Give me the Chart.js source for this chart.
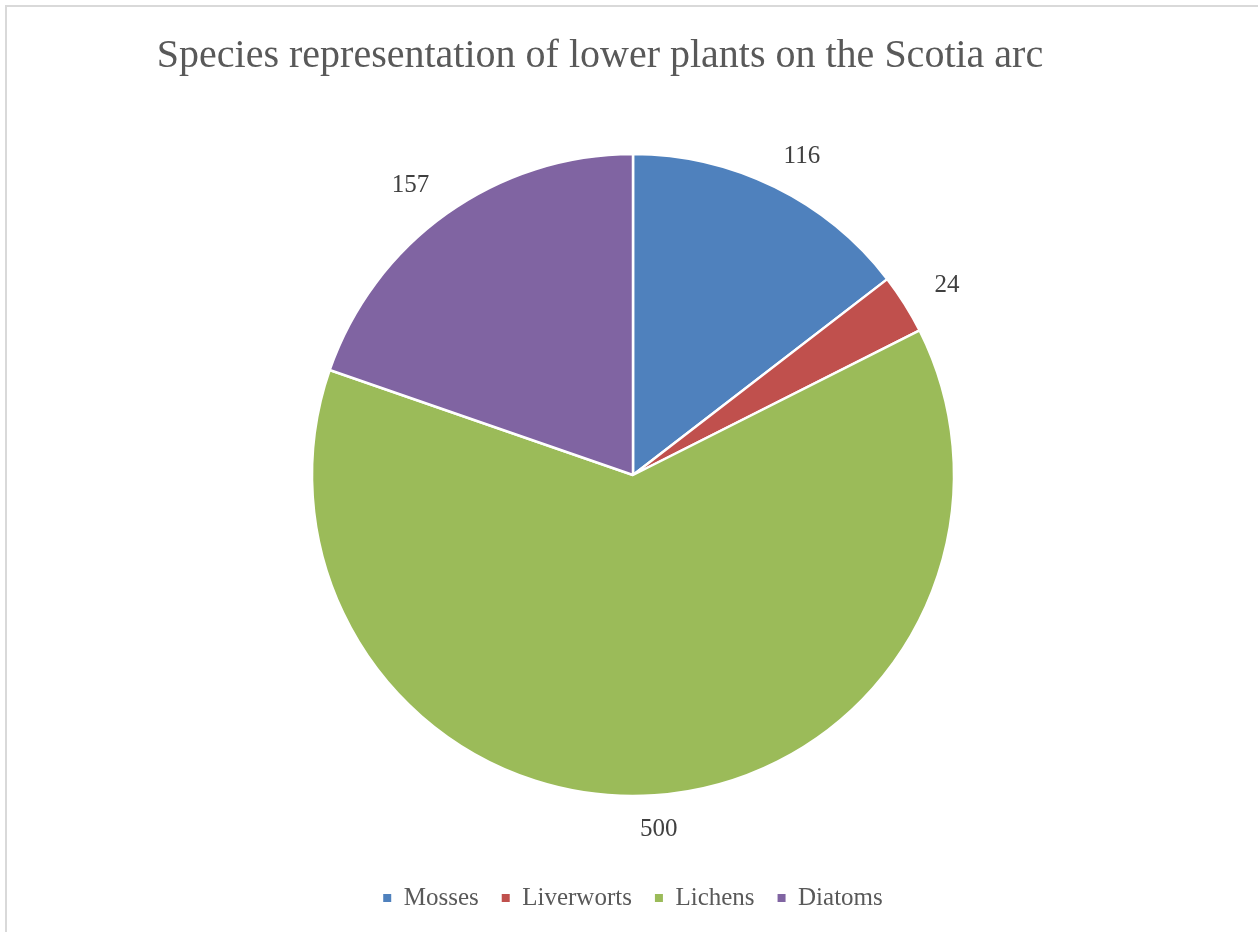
<!DOCTYPE html>
<html>
<head>
<meta charset="utf-8">
<title>Species representation of lower plants on the Scotia arc</title>
<script src="https://cdn.jsdelivr.net/npm/chart.js@4.4.1/dist/chart.umd.min.js"></script>
<style>
  html, body { margin: 0; padding: 0; background: #fff; overflow: hidden; }
  #wrap { position: relative; width: 1258px; height: 932px; }
  #frame {
    position: absolute; left: 5px; top: 5px; width: 1300px; height: 1000px;
    border-left: 2px solid #d9d9d9; border-top: 2px solid #d9d9d9;
    pointer-events: none;
  }
  canvas { position: absolute; left: 0; top: 0; }
</style>
</head>
<body>
<div id="wrap">
  <canvas id="pie" width="1258" height="932"></canvas>
  <div id="frame"></div>
</div>
<script>
const chartTitle = 'Species representation of lower plants on the Scotia arc';
const groups = ['Mosses', 'Liverworts', 'Lichens', 'Diatoms'];
const speciesCounts = [116, 24, 500, 157];
const sliceColors = ['#4f81bd', '#c0504d', '#9bbb59', '#8064a2'];

const serif = "'Liberation Serif', 'DejaVu Serif', serif";

// title drawn by hand so it can sit a little left of the pie centre
const titlePlugin = {
    id: 'titleText',
    afterDraw(chart) {
        const ctx = chart.ctx;
        ctx.save();
        ctx.font = '40px ' + serif;
        ctx.fillStyle = '#595959';
        ctx.textAlign = 'center';
        ctx.textBaseline = 'alphabetic';
        ctx.fillText(chartTitle, 600, 67);
        ctx.restore();
    }
};

// value labels just outside each slice
const valueLabels = {
    id: 'valueLabels',
    afterDatasetsDraw(chart) {
        const ctx = chart.ctx;
        const meta = chart.getDatasetMeta(0);
        ctx.save();
        ctx.font = '25px ' + serif;
        ctx.fillStyle = '#404040';
        ctx.textAlign = 'center';
        ctx.textBaseline = 'middle';
        meta.data.forEach((arc, i) => {
            const p = arc.getProps(['x', 'y', 'startAngle', 'endAngle', 'outerRadius'], true);
            const mid = (p.startAngle + p.endAngle) / 2;
            const text = String(speciesCounts[i]);
            const w = ctx.measureText(text).width;
            const h = 18;
            const r = p.outerRadius + 25;
            const cx = p.x + Math.cos(mid) * r + Math.cos(mid) * w;
            const cy = p.y + Math.sin(mid) * r + Math.sin(mid) * h / 2;
            ctx.fillText(text, cx, cy);
        });
        ctx.restore();
    }
};

const pieChart = new Chart(document.getElementById('pie'), {
    type: 'pie',
    data: {
        labels: groups,
        datasets: [{
            data: speciesCounts,
            backgroundColor: sliceColors,
            borderColor: '#ffffff',
            borderWidth: 2.5,
            radius: 321
        }]
    },
    options: {
        responsive: false,
        animation: false,
        layout: {
            padding: { top: 87.5, bottom: 11.5, left: 8, right: 0 }
        },
        plugins: {
            title: { display: false },
            tooltip: { enabled: false },
            legend: {
                display: true,
                position: 'bottom',
                labels: {
                    boxWidth: 8,
                    boxHeight: 8,
                    padding: 23,
                    color: '#595959',
                    font: { family: serif, size: 25 },
                    generateLabels(chart) {
                        const items = Chart.overrides.pie.plugins.legend.labels.generateLabels(chart);
                        return items.map(it => Object.assign(it, { lineWidth: 0, strokeStyle: 'rgba(0,0,0,0)' }));
                    }
                }
            }
        }
    },
    plugins: [titlePlugin, valueLabels]
});
</script>
</body>
</html>
